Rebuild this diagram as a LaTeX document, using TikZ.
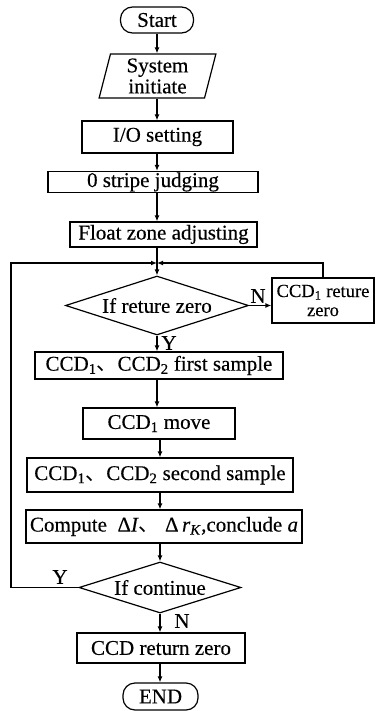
\documentclass[tikz,border=0pt]{standalone}
\usepackage{fontspec}
\setmainfont{Liberation Serif}[FakeBold=0.3]
\newfontfamily\cjk{Noto Sans CJK SC}
\usetikzlibrary{shapes.geometric,arrows.meta}
\newcommand{\dun}{{\cjk 、}}
\begin{document}
\begin{tikzpicture}[x=1pt,y=-1pt,
  every node/.style={font=\fontsize{21}{22}\selectfont},
  box/.style={draw, line width=1.2pt, inner sep=0pt, align=center},
  term/.style={box, rounded corners=12pt},
  para/.style={box, trapezium, trapezium stretches=true, trapezium left angle=78, trapezium right angle=102},
  dec/.style={box, diamond, aspect=3},
  arr/.style={line width=1.2pt, -{Latex[length=6pt,width=5pt]}},
  ln/.style={line width=1.2pt},
  lbl/.style={inner sep=0pt}]
\useasboundingbox (0,0) rectangle (375,711);
\coordinate (axU) at (157,0);
\coordinate (axL) at (160,0);
\node[term, minimum width=73pt, minimum height=26pt] (start) at (157,20) {Start};
\node[para, minimum width=117pt, minimum height=44pt, align=center, font=\fontsize{21}{21}\selectfont] (init) at (157.5,76) {System\\initiate};
\node[box, minimum width=151pt, minimum height=32pt] (io) at (157.5,137) {I/O setting};
\node[box, minimum width=210pt, minimum height=21pt] (stripe) at (153,182) {0 stripe judging};
\node[box, minimum width=187pt, minimum height=25pt] (float) at (163.5,234.5) {Float zone adjusting};
\coordinate (merge) at (157,263);
\node[dec, minimum width=183pt, minimum height=59pt] (dec1) at (157,305.5) {If reture zero};
\node[box, minimum width=102pt, minimum height=45pt, font=\fontsize{18.5}{19}\selectfont] (ret) at (323,300.5) {CCD\textsubscript{1} reture\\zero};
\node[box, minimum width=248pt, minimum height=27pt] (first) at (159,365.5) {CCD\textsubscript{1}\dun CCD\textsubscript{2} first sample};
\node[box, minimum width=152pt, minimum height=31pt] (move) at (159,423.5) {CCD\textsubscript{1} move};
\node[box, minimum width=266pt, minimum height=34pt] (second) at (160,475) {CCD\textsubscript{1}\dun CCD\textsubscript{2} second sample};
\node[box, minimum width=276pt, minimum height=33pt] (comp) at (164,526.5) {Compute\ \ Δ\textit{I}\dun\ Δ\,\textit{r}\textsubscript{\textit{K}},conclude \textit{a}};
\node[dec, minimum width=162pt, minimum height=51pt] (dec2) at (160,587.5) {If continue};
\node[box, minimum width=168pt, minimum height=30pt] (czero) at (161,648) {CCD return zero};
\node[term, minimum width=75pt, minimum height=27pt] (end) at (160.5,696.5) {END};
\coordinate (lx) at (11,0);
% labels
\node[lbl] (nlab1) at (258,296) {N};
\node[lbl] (ylab1) at (169,343) {Y};
\node[lbl] (ylab2) at (60,577) {Y};
\node[lbl] (nlab2) at (182,621) {N};
% connectors
\draw[arr] (start.south -| axU) -- (init.north -| axU);
\draw[arr] (init.south -| axU) -- (io.north -| axU);
\draw[arr] (io.south -| axU) -- (stripe.north -| axU);
\draw[arr] (stripe.south -| axU) -- (float.north -| axU);
\draw[ln] (float.south -| axU) -- (merge);
\draw[arr] (merge) -- (dec1.north);
\draw[arr] (dec1.east) -- (dec1.east -| ret.west);
\draw[arr] (ret.north) |- (merge);
\draw[arr] (dec1.south) -- (first.north -| axU);
\draw[arr] (first.south -| axU) -- (move.north -| axU);
\draw[arr] (move.south -| axL) -- (second.north -| axL);
\draw[arr] (second.south -| axL) -- (comp.north -| axL);
\draw[arr] (comp.south -| axL) -- (dec2.north);
\draw[arr] (dec2.west) -- (dec2.west -| lx) |- (merge);
\draw[arr] (dec2.south) -- (czero.north -| axL);
\draw[arr] (czero.south -| axL) -- (end.north -| axL);
\end{tikzpicture}
\end{document}
